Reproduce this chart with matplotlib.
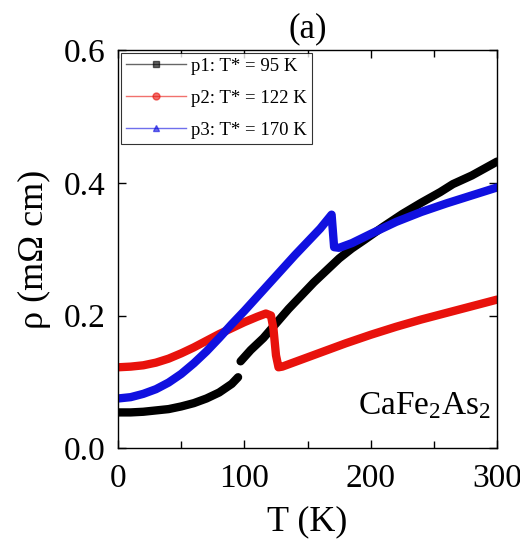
import numpy as np
import matplotlib
matplotlib.use("Agg")
import matplotlib.pyplot as plt
from matplotlib.ticker import MultipleLocator

plt.rcParams['font.family'] = ['Liberation Serif', 'DejaVu Serif']
plt.rcParams['mathtext.fontset'] = 'custom'
plt.rcParams['mathtext.rm'] = 'Liberation Serif'
plt.rcParams['mathtext.default'] = 'regular'

# p1 (black), gap at the jump near 95 K
T_p1 = [0, 10, 20, 30, 40, 50, 60, 70, 80, 90, 95, np.nan, 97, 105, 115, 125, 135, 145,
        155, 165, 175, 185, 195, 210, 225, 240, 255, 265, 280, 300]
rho_p1 = [0.054, 0.054, 0.055, 0.057, 0.059, 0.063, 0.068, 0.075, 0.084, 0.097, 0.107, np.nan,
          0.131, 0.148, 0.166, 0.188, 0.210, 0.230, 0.250, 0.268, 0.286, 0.301, 0.314,
          0.334, 0.353, 0.370, 0.386, 0.398, 0.411, 0.432]

# p2 (red)
T_p2 = [0, 10, 20, 30, 40, 50, 60, 70, 80, 90, 100, 110, 117, 121, 123, 125, 127, 130,
        140, 160, 180, 200, 220, 240, 260, 280, 300]
rho_p2 = [0.122, 0.123, 0.125, 0.129, 0.135, 0.143, 0.152, 0.162, 0.172, 0.181, 0.190,
          0.198, 0.203, 0.200, 0.180, 0.140, 0.122, 0.123, 0.130, 0.144, 0.158, 0.171,
          0.183, 0.194, 0.204, 0.214, 0.224]

# p3 (blue)
T_p3 = [0, 10, 20, 30, 40, 50, 60, 70, 80, 90, 100, 110, 120, 130, 140, 150, 160, 169,
        171, 175, 185, 200, 220, 240, 260, 280, 300]
rho_p3 = [0.075, 0.077, 0.082, 0.089, 0.099, 0.112, 0.128, 0.146, 0.166, 0.187, 0.207,
          0.228, 0.249, 0.270, 0.291, 0.311, 0.331, 0.352, 0.303, 0.302, 0.309, 0.323,
          0.341, 0.356, 0.369, 0.381, 0.393]

labels = ['p1: T* = 95 K', 'p2: T* = 122 K', 'p3: T* = 170 K']
colors = ['black', '#e8120c', '#1010e0']
markers = ['s', 'o', '^']

fig = plt.figure(figsize=(5.2, 5.44), dpi=100)
ax = fig.add_axes([0.227, 0.176, 0.729, 0.732])

data = [(T_p1, rho_p1), (T_p2, rho_p2), (T_p3, rho_p3)]
for (T, r), c in zip(data, colors):
    ax.plot(T, r, color=c, lw=6, solid_capstyle='round', solid_joinstyle='round')

# legend proxies
for lab, c, m in zip(labels, colors, markers):
    ax.plot([], [], color=c, lw=1, alpha=0.6, marker=m, ms=5,
            markerfacecolor=c, markeredgecolor=c, label=lab)

leg = ax.legend(loc='upper left', fontsize=13.5, frameon=True, fancybox=False,
                edgecolor='black', handlelength=3.2, handletextpad=0.3,
                labelspacing=0.8, borderpad=0.25, borderaxespad=0.15)
leg.get_frame().set_linewidth(0.8)

ax.set_xlim(0, 300)
ax.set_ylim(0, 0.6)
ax.xaxis.set_major_locator(MultipleLocator(100))
ax.xaxis.set_minor_locator(MultipleLocator(50))
ax.set_yticks([0.0, 0.2, 0.4, 0.6])
ax.set_yticklabels(['0.0', '0.2', '0.4', '0.6'])

ax.tick_params(which='both', direction='in', top=True, right=True, labelsize=24)
ax.tick_params(axis='x', which='both', pad=11)
ax.tick_params(axis='y', which='both', pad=9)
ax.tick_params(which='major', length=6, width=1)
ax.tick_params(which='minor', length=5, width=1)
for s in ax.spines.values():
    s.set_linewidth(1)

ax.set_xlabel('T (K)', fontsize=26, labelpad=8)
ax.set_ylabel('ρ (mΩ cm)', fontsize=26, labelpad=9)
ax.set_title('(a)', fontsize=25, pad=9)

ax.text(0.985, 0.085, 'CaFe$_2$As$_2$', transform=ax.transAxes, fontsize=24,
        ha='right', va='baseline')

fig.savefig('out.png', dpi=100)
